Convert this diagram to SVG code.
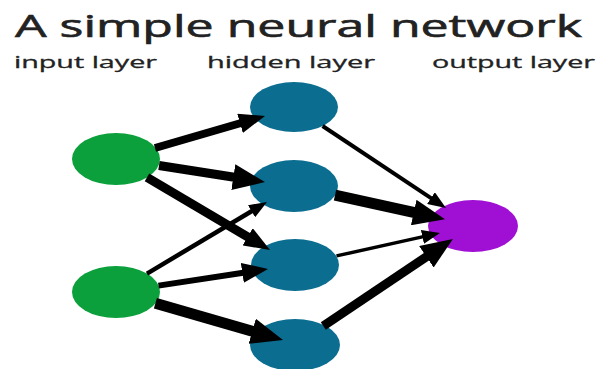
<svg xmlns="http://www.w3.org/2000/svg" width="600" height="369" viewBox="0 0 600 369">
  <style>
    .title { font-family: "Open Sans", "Noto Sans", sans-serif; font-size: 31px; fill: #222222; stroke: #222222; stroke-width: 0.6px; }
    .label { font-family: "Open Sans", "Noto Sans", sans-serif; font-size: 16px; fill: #222222; stroke: #222222; stroke-width: 0.3px; }
    .in { fill: #0ba03c; }
    .hid { fill: #0b6d90; }
    .out { fill: #a010d4; }
    .edge { stroke: #000000; fill: none; stroke-linecap: butt; }
  </style>
  <defs>
    <marker id="arrow-s" viewBox="0 0 18 14" markerWidth="18" markerHeight="14" refX="1" refY="7" orient="auto" markerUnits="userSpaceOnUse">
      <path d="M0,0 L18,7 L0,14 Z" fill="#000000"/>
    </marker>
    <marker id="arrow-m" viewBox="0 0 26 20" markerWidth="26" markerHeight="20" refX="1" refY="10" orient="auto" markerUnits="userSpaceOnUse">
      <path d="M0,0 L26,10 L0,20 Z" fill="#000000"/>
    </marker>
    <marker id="arrow-l" viewBox="0 0 32 26" markerWidth="32" markerHeight="26" refX="1" refY="13" orient="auto" markerUnits="userSpaceOnUse">
      <path d="M0,0 L32,13 L0,26 Z" fill="#000000"/>
    </marker>
  </defs>

  <rect width="600" height="369" fill="#ffffff"/>

  <!-- headings -->
  <text class="title" x="15" y="37" textLength="567" lengthAdjust="spacingAndGlyphs">A simple neural network</text>
  <text class="label" x="14" y="68" textLength="143" lengthAdjust="spacingAndGlyphs">input layer</text>
  <text class="label" x="207" y="68" textLength="168" lengthAdjust="spacingAndGlyphs">hidden layer</text>
  <text class="label" x="432" y="68" textLength="163" lengthAdjust="spacingAndGlyphs">output layer</text>

  <!-- input layer -->
  <g id="input-1"><ellipse class="in" cx="116" cy="159" rx="44" ry="26"/></g>
  <g id="input-2"><ellipse class="in" cx="116" cy="292" rx="44" ry="26"/></g>

  <!-- hidden layer -->
  <g id="hidden-1"><ellipse class="hid" cx="294" cy="107" rx="44" ry="25"/></g>
  <g id="hidden-2"><ellipse class="hid" cx="294" cy="186" rx="44" ry="26"/></g>
  <g id="hidden-3"><ellipse class="hid" cx="295" cy="265" rx="44" ry="26"/></g>
  <g id="hidden-4"><ellipse class="hid" cx="295" cy="345" rx="45" ry="26"/></g>

  <!-- output layer -->
  <g id="output-1"><ellipse class="out" cx="473" cy="226" rx="45" ry="26"/></g>

  <!-- weighted connections -->
  <g id="connectors">
    <line class="edge" x1="155" y1="148" x2="241" y2="123" stroke-width="8" marker-end="url(#arrow-m)"/>
    <line class="edge" x1="159" y1="165.5" x2="234.3" y2="177.3" stroke-width="9" marker-end="url(#arrow-l)"/>
    <line class="edge" x1="147" y1="177.4" x2="248.5" y2="237.3" stroke-width="9" marker-end="url(#arrow-m)"/>
    <line class="edge" x1="147" y1="273.6" x2="252.4" y2="210.7" stroke-width="4.5" marker-end="url(#arrow-s)"/>
    <line class="edge" x1="158.5" y1="285.6" x2="243.3" y2="272.7" stroke-width="6" marker-end="url(#arrow-m)"/>
    <line class="edge" x1="155.4" y1="303.2" x2="253.2" y2="331.5" stroke-width="11" marker-end="url(#arrow-l)"/>
    <line class="edge" x1="322.6" y1="126" x2="431.8" y2="198.6" stroke-width="4" marker-end="url(#arrow-s)"/>
    <line class="edge" x1="335" y1="195.2" x2="414.7" y2="212.7" stroke-width="11" marker-end="url(#arrow-l)"/>
    <line class="edge" x1="336.5" y1="255.9" x2="423.4" y2="236.6" stroke-width="3.5" marker-end="url(#arrow-s)"/>
    <line class="edge" x1="323.3" y1="326.1" x2="427.2" y2="256.2" stroke-width="9" marker-end="url(#arrow-l)"/>
  </g>
</svg>
